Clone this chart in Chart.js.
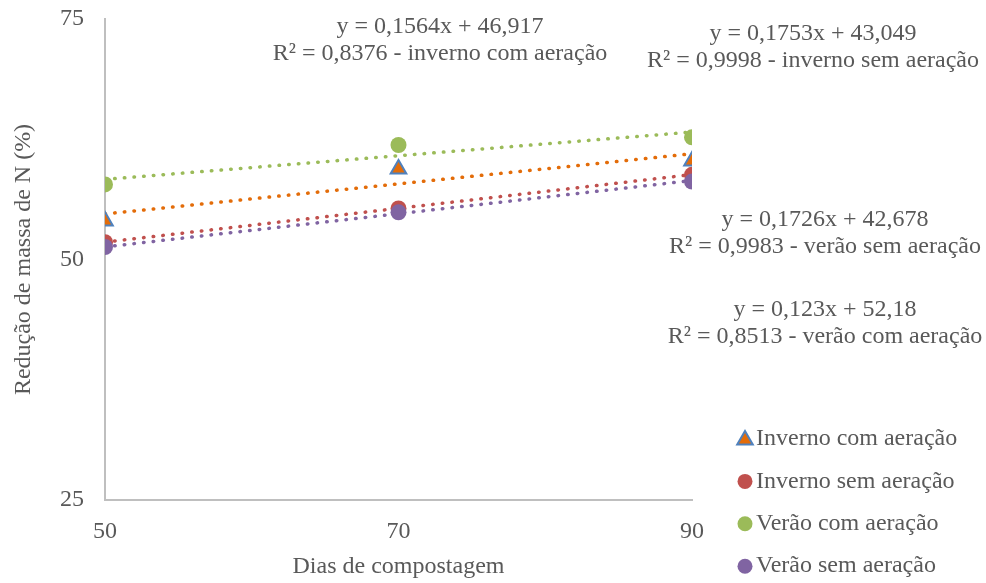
<!DOCTYPE html>
<html>
<head>
<meta charset="utf-8">
<script src="https://cdn.jsdelivr.net/npm/chart.js@4.4.1/dist/chart.umd.min.js"></script>
<style>
  html, body { margin: 0; padding: 0; background: #fff; }
  #wrap { width: 986px; height: 583px; }
</style>
</head>
<body>
<div id="wrap"><canvas id="chart"></canvas></div>
<script>
// dias de compostagem
const dias = [50, 70, 90];

// reducao de massa de N (%)
const invernoComAeracao = [54.0, 59.4, 60.25];
const invernoSemAeracao = [51.8, 55.3, 58.8];
const veraoComAeracao = [57.8, 61.9, 62.7];
const veraoSemAeracao = [51.3, 54.9, 58.1];

const trendX = [50, 90];
const trendInvComAer = [54.74, 60.99];
const trendInvSemAer = [51.81, 58.83];
const trendVerComAer = [58.33, 63.25];
const trendVerSemAer = [51.31, 58.21];

const yTicks = [25, 50, 75];
const xTicks = [50, 70, 90];

const legendOrder = ['Inverno com aeração', 'Inverno sem aeração', 'Verão com aeração', 'Verão sem aeração'];

const equacoes = [
  ["y = 0,1564x + 46,917", "R² = 0,8376 - inverno com aeração", 440, 27],
  ["y = 0,1753x + 43,049", "R² = 0,9998 - inverno sem aeração", 813, 34],
  ["y = 0,1726x + 42,678", "R² = 0,9983 - verão sem aeração", 825, 220],
  ["y = 0,123x + 52,18", "R² = 0,8513 - verão com aeração", 825, 310]
];

const FONT = "'Liberation Serif', 'Times New Roman', serif";
const GREY = '#595959';
const SIZE = 24;

function pts(xs, ys) {
  return xs.map((x, i) => ({ x: x, y: ys[i] }));
}

function trend(ys, color) {
  return {
    label: 'trend',
    data: pts(trendX, ys),
    showLine: true,
    borderColor: color,
    borderWidth: 3.5,
    borderDash: [0.5, 9.2],
    borderCapStyle: 'round',
    pointRadius: 0,
    pointHoverRadius: 0,
    fill: false
  };
}

function marker(ctx, style, x, y, r) {
  ctx.beginPath();
  if (style === 'triangle') {
    for (let k = 0; k < 3; k++) {
      const a = k * 2 * Math.PI / 3;
      const px = x + Math.sin(a) * r, py = y - Math.cos(a) * r;
      if (k === 0) ctx.moveTo(px, py); else ctx.lineTo(px, py);
    }
    ctx.closePath();
  } else {
    ctx.arc(x, y, r, 0, Math.PI * 2);
  }
}

// textos das equacoes e legenda
const extras = {
  id: 'extras',
  afterDraw(chart) {
    const ctx = chart.ctx;
    ctx.save();
    ctx.font = SIZE + 'px ' + FONT;
    ctx.fillStyle = GREY;
    ctx.textAlign = 'center';
    ctx.textBaseline = 'middle';
    equacoes.forEach(e => {
      ctx.fillText(e[0], e[2], e[3]);
      ctx.fillText(e[1], e[2], e[3] + 27);
    });

    legendOrder.forEach((name, i) => {
      const ds = chart.data.datasets.find(d => d.label === name);
      const y = 439 + i * 42.4;
      const tri = ds.pointStyle === 'triangle';
      marker(ctx, tri ? 'triangle' : 'circle', 745, tri ? y + 1 : y, tri ? 9 : 7.5);
      ctx.fillStyle = ds.backgroundColor;
      ctx.fill();
      if (ds.borderWidth > 0) {
        ctx.strokeStyle = ds.borderColor;
        ctx.lineWidth = ds.borderWidth;
        ctx.stroke();
      }
      ctx.fillStyle = GREY;
      ctx.textAlign = 'left';
      ctx.fillText(name, 756, y);
    });
    ctx.restore();
  }
};

const ctx = document.getElementById('chart').getContext('2d');
new Chart(ctx, {
  type: 'scatter',
  data: {
    datasets: [
      { label: 'Verão sem aeração', data: pts(dias, veraoSemAeracao),
        backgroundColor: '#8064A2', borderColor: '#8064A2', pointRadius: 8, borderWidth: 0 },
      { label: 'Verão com aeração', data: pts(dias, veraoComAeracao),
        backgroundColor: '#9BBB59', borderColor: '#9BBB59', pointRadius: 8, borderWidth: 0 },
      { label: 'Inverno sem aeração', data: pts(dias, invernoSemAeracao),
        backgroundColor: '#C0504D', borderColor: '#C0504D', pointRadius: 8, borderWidth: 0 },
      { label: 'Inverno com aeração', data: pts(dias, invernoComAeracao),
        pointStyle: 'triangle', backgroundColor: '#E36C09', borderColor: '#4F81BD',
        pointRadius: 9, borderWidth: 2 },
      trend(trendInvComAer, '#E36C09'),
      trend(trendInvSemAer, '#C0504D'),
      trend(trendVerComAer, '#9BBB59'),
      trend(trendVerSemAer, '#8064A2')
    ]
  },
  options: {
    responsive: true,
    maintainAspectRatio: false,
    animation: false,
    layout: { padding: { top: 19, right: 294, bottom: 0, left: 0 } },
    plugins: {
      tooltip: { enabled: false },
      legend: { display: false }
    },
    scales: {
      x: {
        type: 'linear',
        min: 50,
        max: 90,
        afterBuildTicks: axis => { axis.ticks = xTicks.map(v => ({ value: v })); },
        afterFit: axis => { axis.height = 83; axis.paddingLeft = 0; axis.paddingRight = 0; },
        grid: { display: false, drawTicks: false },
        border: { display: true, color: '#BFBFBF', width: 2 },
        ticks: { color: GREY, padding: 17, font: { family: FONT, size: SIZE } },
        title: { display: true, text: 'Dias de compostagem', color: GREY,
                 font: { family: FONT, size: SIZE }, padding: { top: 0, bottom: 2 } }
      },
      y: {
        min: 25,
        max: 75,
        afterBuildTicks: axis => { axis.ticks = yTicks.map(v => ({ value: v })); },
        afterFit: axis => { axis.width = 105; axis.paddingTop = 0; axis.paddingBottom = 0; },
        grid: { display: false, drawTicks: false },
        border: { display: true, color: '#BFBFBF', width: 2 },
        ticks: { color: GREY, padding: 21, font: { family: FONT, size: SIZE } },
        title: { display: true, text: 'Redução de massa de N (%)', color: GREY,
                 font: { family: FONT, size: SIZE }, padding: { top: 9, bottom: 0 } }
      }
    }
  },
  plugins: [extras]
});
</script>
</body>
</html>
